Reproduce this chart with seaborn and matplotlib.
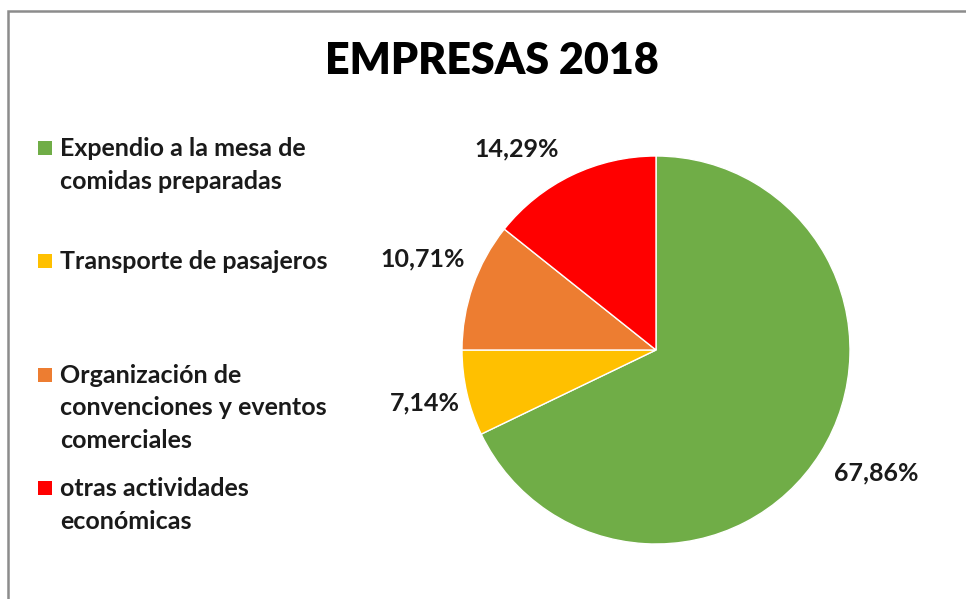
import numpy as np
import matplotlib.pyplot as plt
import seaborn as sns
from matplotlib.patches import Rectangle

sns.set_style("white")
plt.rcParams["font.family"] = ["Lato", "DejaVu Sans"]
plt.rcParams["font.weight"] = "bold"

# datos del gráfico
categorias = [
    "Expendio a la mesa de\ncomidas preparadas",
    "Transporte de pasajeros",
    "Organización de\nconvenciones y eventos\ncomerciales",
    "otras actividades\neconómicas",
]
porcentajes = [67.86, 7.14, 10.71, 14.29]
colores = ["#70AD47", "#FFC000", "#ED7D31", "#FF0000"]
titulo = "EMPRESAS 2018"

W, H = 966, 599
fig = plt.figure(figsize=(W / 100, H / 100), dpi=100)

# marco del área del gráfico (solo se ven los bordes izquierdo y superior)
fig.patches.append(
    Rectangle((8 / W, -0.2), 1.3, 1.2 - 11 / H, transform=fig.transFigure,
              fill=False, edgecolor="#8c8c8c", linewidth=1.8)
)

cx, cy, r = 656, 350, 194
ax = fig.add_axes([(cx - r) / W, (H - cy - r) / H, 2 * r / W, 2 * r / H])
wedges, _ = ax.pie(
    porcentajes,
    colors=colores,
    startangle=90,
    counterclock=False,
    radius=1,
    wedgeprops=dict(edgecolor="white", linewidth=1),
)
ax.set_xlim(-1, 1)
ax.set_ylim(-1, 1)
ax.set_aspect("equal")
ax.axis("off")

# etiquetas de porcentaje fuera del pastel (distancia y ajuste de ángulo por etiqueta)
distancias = [1.30, 1.22, 1.29, 1.26]
ajuste_ang = [3, 0, -2, 9]
for w, p, d, da in zip(wedges, porcentajes, distancias, ajuste_ang):
    ang = np.deg2rad((w.theta1 + w.theta2) / 2 + da)
    ax.text(d * np.cos(ang), d * np.sin(ang), f"{p:.2f}%".replace(".", ","),
            ha="center", va="center", fontsize=18, fontweight="bold",
            color="#1a1a1a", clip_on=False)

fig.text(492 / W, 1 - 61 / H, titulo, ha="center", va="center",
         fontsize=31, fontweight="heavy", color="black")

# leyenda manual, alineada a la primera línea como en Excel
y0 = 148
paso = 113.3
for i, (lab, col) in enumerate(zip(categorias, colores)):
    y = y0 + i * paso
    fig.patches.append(
        Rectangle((38 / W, 1 - (y + 7) / H), 14 / W, 14 / H,
                  transform=fig.transFigure, facecolor=col, edgecolor="none")
    )
    fig.text(60 / W, 1 - (y - 11) / H, lab, ha="left", va="top",
             fontsize=18, fontweight="bold", color="#1a1a1a", linespacing=1.52)

fig.savefig("out.png", dpi=100)
